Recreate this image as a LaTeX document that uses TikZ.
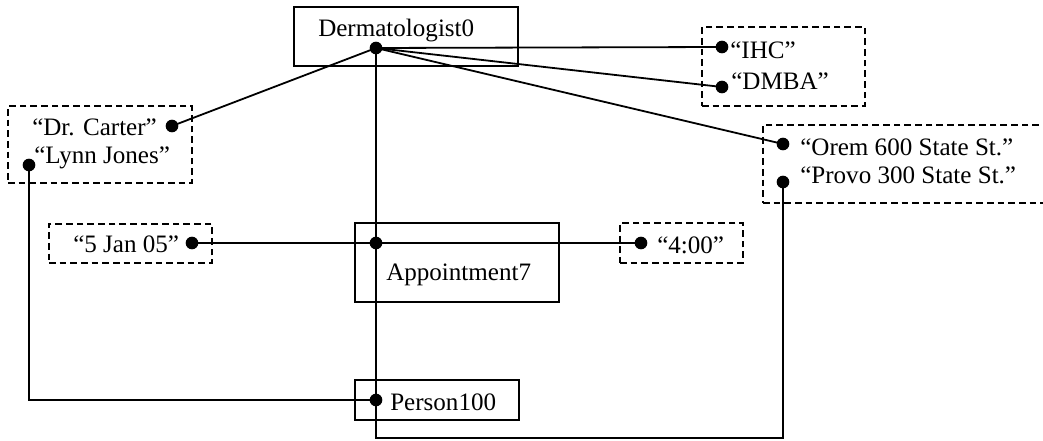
\documentclass[tikz,border=0pt]{standalone}
\usepackage{fontspec}
\setmainfont{Liberation Serif}
\usetikzlibrary{fit}
\begin{document}
\begin{tikzpicture}[x=0.75pt,y=-0.75pt,
  objbox/.style={draw, line width=1.2pt, inner sep=0pt},
  valbox/.style={draw, line width=1.2pt, inner sep=0pt, dash pattern=on 5pt off 3pt},
  lbl/.style={anchor=base west, inner sep=0pt, font=\fontsize{18.8}{22}\selectfont},
  dot/.style={circle, fill=black, inner sep=0pt, minimum size=9.5pt},
  link/.style={line width=1.35pt}]
\useasboundingbox (0,0) rectangle (1043,441);

% object boxes
\node[objbox, fit={(294,7) (518,66)}] (derm) {};
\node[objbox, fit={(355,223) (559,302)}] (appt) {};
\node[objbox, fit={(355,380) (519,420)}] (person) {};

% value boxes
\node[valbox, fit={(8,106) (192,183)}] (names) {};
\node[valbox, fit={(702,27) (865,106)}] (plans) {};
\node[valbox, fit={(763,125) (1070,203)}] (addrs) {};
\node[valbox, fit={(49,224) (212,263)}] (datebox) {};
\node[valbox, fit={(620,223) (743,263)}] (timebox) {};

% labels
\node[lbl] (tDerm) at (318,37) {Dermatologist0};
\node[lbl] (tAppt) at (386,281) {Appointment7};
\node[lbl] (tPerson) at (390,411) {Person100};
\node[lbl] (tCarter) at (32,136) {“Dr. Carter”};
\node[lbl] (tLynn) at (34,164) {“Lynn Jones”};
\node[lbl] (tIHC) at (730,59) {“IHC”};
\node[lbl] (tDMBA) at (731,90) {“DMBA”};
\node[lbl] (tOrem) at (800,156) {“Orem 600 State St.”};
\node[lbl] (tProvo) at (800,184) {“Provo 300 State St.”};
\node[lbl] (tDate) at (73,253) {“5 Jan 05”};
\node[lbl] (tTime) at (657,254) {“4:00”};

% connection points
\node[dot] (dDerm) at (376,48) {};
\node[dot] (dAppt) at (376,243) {};
\node[dot] (dPerson) at (376,400) {};
\node[dot] (dCarter) at (172,126) {};
\node[dot] (dLynn) at (29,165) {};
\node[dot] (dIHC) at (722,47) {};
\node[dot] (dDMBA) at (722,87) {};
\node[dot] (dOrem) at (783,144) {};
\node[dot] (dProvo) at (783,182) {};
\node[dot] (dDate) at (192,243) {};
\node[dot] (dTime) at (641,243) {};
\coordinate (cornerL) at (376,438);
\coordinate (cornerR) at (783,438);

% connectors
\draw[link] (dDerm.center) -- (dCarter.center);
\draw[link] (dDerm.center) -- (dIHC.center);
\draw[link] (dDerm.center) -- (dDMBA.center);
\draw[link] (dDerm.center) -- (dOrem.center);
\draw[link] (dDerm.center) -- (cornerL) -- (cornerR) -- (dProvo.center);
\draw[link] (dDate.center) -- (dAppt.center) -- (dTime.center);
\draw[link] (dLynn.center) |- (dPerson.center);
\end{tikzpicture}
\end{document}
